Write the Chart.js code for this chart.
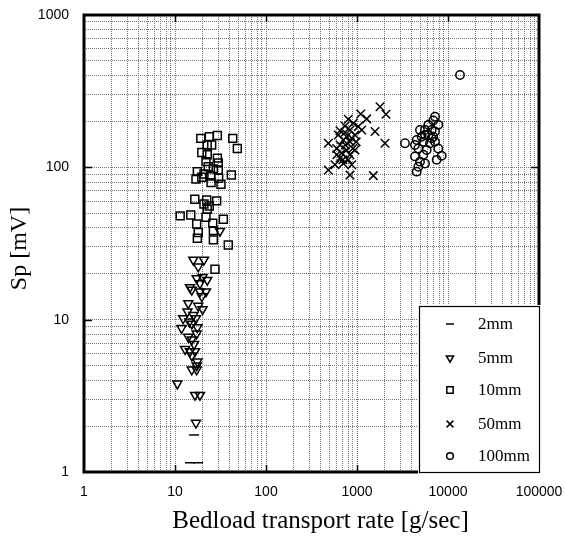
<!DOCTYPE html>
<html><head><meta charset="utf-8">
<script src="https://cdn.jsdelivr.net/npm/chart.js@4.4.1/dist/chart.umd.min.js"></script>
<style>html,body{margin:0;padding:0;background:#fff;}#wrap{width:565px;height:536px;}</style>
</head><body><div id="wrap"><canvas id="c" width="565" height="536"></canvas></div>
<script>
const categories = ['2mm', '5mm', '10mm', '50mm', '100mm'];
const xTickLabels = [1, 10, 100, 1000, 10000, 100000];
const yTickLabels = [1, 10, 100, 1000];
const xTitle = 'Bedload transport rate [g/sec]';
const yTitle = 'Sp [mV]';

const rate2mm = [16.2, 14.6, 17.9];
const sp2mm   = [1.75, 1.15, 1.15];

const rate5mm = [15.9, 20.8, 18.0, 17.3, 20.1, 22.6, 18.8, 14.6, 15.3, 18.8, 21.9, 19.7, 14.0, 18.0, 20.1, 13.7, 15.9, 12.3, 17.0, 14.4,
                 15.3, 11.8, 17.6, 17.3, 14.0, 15.3, 16.2, 12.9, 14.6, 16.6, 15.3, 17.6, 17.3, 15.3, 17.3, 10.6, 16.6, 18.8, 17.0, 31.2];
const sp5mm   = [24.7, 24.7, 22.3, 18.7, 19.0, 18.2, 17.3, 16.3, 15.7, 15.3, 15.3, 14.2, 12.8, 12.3, 11.7, 11.3, 10.7, 10.2, 10.2, 9.7,
                 9.4, 8.8, 8.9, 8.1, 7.7, 7.4, 6.9, 6.4, 6.2, 6.2, 5.8, 5.3, 5.0, 4.7, 4.7, 3.8, 3.2, 3.2, 2.1, 38.2];

const rate10mm = [19.2, 23.8, 29.2, 43.1, 22.6, 25.3, 48.4, 19.7, 22.6, 29.2, 21.9, 29.9, 23.2, 26.4, 17.6, 20.8, 24.7, 29.9, 41.6, 17.0,
                  19.7, 30.2, 24.9, 32.0, 16.5, 22.3, 28.7, 20.8, 23.8, 22.6, 11.4, 14.9, 21.9, 34.0, 17.3, 26.0, 18.0, 26.4, 17.6, 26.4,
                  38.5, 27.5];
const sp10mm   = [155, 159, 162, 155, 140, 140, 133, 125, 121, 115, 109, 107, 101, 97.7, 93.7, 90.5, 87.8, 96.1, 89.1, 83.9,
                  86.1, 84.8, 79.4, 77.4, 61.8, 61.1, 60.2, 57.5, 55.8, 53.1, 48.0, 48.7, 47.0, 45.6, 42.5, 43.0, 37.3, 38.4, 34.2, 33.4,
                  30.9, 21.4];

const rate50mm = [1790, 2083, 1099, 1278, 802, 910, 1033, 738, 650, 838, 1127, 1577, 623, 770, 951, 707, 838, 484, 650, 2031,
                  598, 770, 679, 838, 650, 802, 573, 707, 875, 484, 838, 1511, 745, 900, 950, 738, 980, 600, 700, 880];
const sp50mm   = [250, 223, 224, 208, 207, 195, 185, 187, 174, 176, 176, 172, 163, 159, 163, 151, 147, 144, 140, 144,
                  133, 130, 124, 121, 115, 112, 104, 106, 104, 96.1, 89.1, 88.2, 140, 133, 130, 170, 147, 121, 112, 155];

const rate100mm = [13550, 7197, 6890, 7820, 4923, 5590, 6620, 7197, 6080, 5140, 6890, 3368, 4337, 5355, 6340, 7197, 4720, 5830, 7820, 4337,
                   5355, 8530, 7510, 4923, 5590, 4720, 4530, 6620, 6080, 4530, 5590];
const sp100mm   = [404, 215, 203, 190, 176, 176, 176, 172, 163, 159, 159, 144, 140, 147, 144, 147, 133, 130, 133, 118,
                   121, 119, 112, 109, 106, 101, 93.7, 155, 190, 151, 163];

const pts = (xs, ys) => xs.map((v, i) => ({x: v, y: ys[i]}));
const styles = [
  {pointStyle: 'line', radius: 5, rotation: 0},
  {pointStyle: 'triangle', radius: 5.2, rotation: 180},
  {pointStyle: 'rect', radius: 5.6, rotation: 0},
  {pointStyle: 'crossRot', radius: 6, rotation: 0},
  {pointStyle: 'circle', radius: 4.2, rotation: 0}
];
const series = [pts(rate2mm, sp2mm), pts(rate5mm, sp5mm), pts(rate10mm, sp10mm), pts(rate50mm, sp50mm), pts(rate100mm, sp100mm)];

const datasets = categories.map((name, i) => ({
  label: name,
  data: series[i],
  showLine: false,
  pointStyle: styles[i].pointStyle,
  pointRadius: styles[i].radius,
  pointRotation: styles[i].rotation,
  pointBorderColor: '#000',
  pointBackgroundColor: 'rgba(0,0,0,0)',
  pointBorderWidth: 1.5,
  borderColor: '#000',
  backgroundColor: 'rgba(0,0,0,0)'
}));

function logTicks(lo, hi) {
  const out = [];
  for (let d = Math.log10(lo); d < Math.log10(hi); d++) {
    for (let m = 1; m <= 9; m++) out.push(m * Math.pow(10, d));
  }
  out.push(hi);
  return out;
}

const serif = "'Liberation Serif', 'Times New Roman', serif";
const sans = "'Liberation Sans', Arial, sans-serif";

const decor = {
  id: 'decor',
  afterDatasetsDraw(chart) {
    const {ctx, chartArea: a, scales: {x, y}} = chart;
    ctx.save();
    ctx.strokeStyle = '#000';
    ctx.lineWidth = 1.5;
    ctx.beginPath();
    xTickLabels.slice(1, -1).forEach(v => {
      const px = Math.round(x.getPixelForValue(v)) + 0.5;
      ctx.moveTo(px, a.bottom); ctx.lineTo(px, a.bottom - 7);
      ctx.moveTo(px, a.top); ctx.lineTo(px, a.top + 7);
    });
    yTickLabels.slice(1, -1).forEach(v => {
      const py = Math.round(y.getPixelForValue(v)) + 0.5;
      ctx.moveTo(a.left, py); ctx.lineTo(a.left + 8, py);
      ctx.moveTo(a.right, py); ctx.lineTo(a.right - 8, py);
    });
    ctx.stroke();
    // frame
    ctx.lineWidth = 3;
    ctx.strokeRect(a.left, a.top, a.right - a.left, a.bottom - a.top);
    // legend box
    const lw = 120, lh = 166;
    const lx = a.right - lw, ly = a.bottom - lh;
    ctx.fillStyle = '#fff';
    ctx.fillRect(lx - 1, ly - 1, lw + 4, lh + 4);
    ctx.lineWidth = 1.2;
    ctx.strokeRect(lx + 0.5, ly + 0.5, lw, lh);
    const rowY = [18, 52, 84, 118, 150];
    ctx.font = '17px ' + serif;
    ctx.textBaseline = 'middle';
    ctx.textAlign = 'left';
    categories.forEach((name, i) => {
      const cy = ly + rowY[i];
      const st = styles[i];
      ctx.fillStyle = 'rgba(0,0,0,0)';
      ctx.strokeStyle = '#000';
      ctx.lineWidth = 1.5;
      Chart.helpers.drawPoint(ctx, {pointStyle: st.pointStyle, radius: st.radius * 0.8, rotation: st.rotation, borderWidth: 1.5}, lx + 31, cy);
      ctx.fillStyle = '#000';
      ctx.fillText(name, lx + 59, cy + 1);
    });
    // axis titles
    ctx.fillStyle = '#000';
    ctx.textAlign = 'center';
    ctx.textBaseline = 'middle';
    ctx.font = '25px ' + serif;
    ctx.fillText(xTitle, (a.left + a.right) / 2 + 9, 521);
    ctx.font = '24px ' + serif;
    ctx.translate(20, (a.top + a.bottom) / 2 + 5);
    ctx.rotate(-Math.PI / 2);
    ctx.fillText(yTitle, 0, 0);
    ctx.restore();
  }
};

new Chart(document.getElementById('c'), {
  type: 'scatter',
  data: {datasets},
  plugins: [decor],
  options: {
    responsive: false,
    animation: false,
    devicePixelRatio: 1,
    layout: {padding: {left: 0, right: 26, top: 15, bottom: 0}},
    plugins: {legend: {display: false}, tooltip: {enabled: false}},
    elements: {point: {hoverRadius: 5}},
    scales: {
      x: {
        type: 'logarithmic', min: 1, max: 100000,
        afterBuildTicks: s => { s.ticks = logTicks(1, 100000).map(v => ({value: v})); },
        afterFit: s => { s.height = 64; s.paddingLeft = 0; s.paddingRight = 0; },
        ticks: {
          autoSkip: false, maxRotation: 0, padding: 12, color: '#000',
          font: {family: sans, size: 14},
          callback: v => xTickLabels.includes(v) ? String(v) : ''
        },
        grid: {color: '#777', lineWidth: 1, drawTicks: false},
        border: {display: false, dash: [1, 1]},
        title: {display: false, text: xTitle}
      },
      y: {
        type: 'logarithmic', min: 1, max: 1000,
        afterBuildTicks: s => { s.ticks = logTicks(1, 1000).map(v => ({value: v})); },
        afterFit: s => { s.width = 84; s.paddingTop = 0; s.paddingBottom = 0; },
        ticks: {
          autoSkip: false, padding: 15, color: '#000',
          font: {family: sans, size: 14},
          callback: v => yTickLabels.includes(v) ? String(v) : ''
        },
        grid: {color: '#777', lineWidth: 1, drawTicks: false},
        border: {display: false, dash: [1, 1]},
        title: {display: false, text: yTitle}
      }
    }
  }
});
</script>
</body></html>
